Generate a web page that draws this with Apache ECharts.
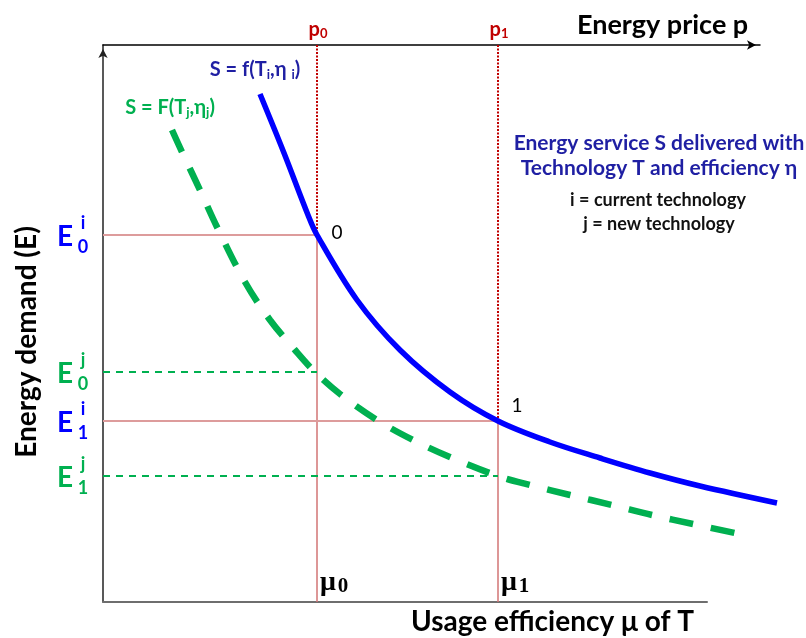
<!DOCTYPE html>
<html>
<head>
<meta charset="utf-8">
<script src="https://cdn.jsdelivr.net/npm/echarts@6/dist/echarts.min.js"></script>
<style>
  html, body { margin: 0; padding: 0; background: #fff; }
  #chart { width: 806px; height: 638px; }
</style>
</head>
<body>
<div id="chart"></div>
<script>
// Usage efficiency at the two energy prices (mu0, mu1)
const efficiency = [214, 395];
// Energy demand at those efficiencies, current technology i and new technology j
const demandCurrent = [367, 181];
const demandNew = [230, 126];
const stateNames = ['0', '1'];
const stateIndex = ['0', '1'];

// Service curve S = f(Ti, eta_i) (current technology)
const currentX = [157, 181, 205, 214, 254, 297, 347, 395, 447, 497, 547, 597, 674];
const currentY = [508, 449, 387, 367, 302, 252, 210, 181, 160, 144, 129, 116, 99];

// Service curve S = F(Tj, eta_j) (new technology)
const newX = [69, 79, 97, 114, 142, 167, 192, 212, 237, 274, 310, 349, 395, 427, 467, 509, 549, 590, 632];
const newY = [472, 450, 412, 375, 320, 282, 252, 230, 208, 182, 162, 144, 126, 117, 107, 97, 87, 78, 69];

const Y_TOP = 557;

const BLUE = '#0000ff';
const NAVY = '#1f1fa3';
const GREEN = '#00b050';
const DARKRED = '#c00000';
const PINK_H = '#dd9c9c';
const PINK_V = '#d27474';
const FONT = 'Lato';

const pairs = (xs, ys) => xs.map((x, i) => [x, ys[i]]);

const chart = echarts.init(document.getElementById('chart'), null, { renderer: 'canvas' });

const series = [];

function segment(p, q, color, width, type) {
  series.push({
    type: 'line', xAxisIndex: 0, yAxisIndex: 0, silent: true,
    symbol: 'none', data: [p, q],
    lineStyle: { color, width, type }, z: 2
  });
}

// guide lines for the two states
efficiency.forEach((mu, k) => {
  const e = demandCurrent[k];
  segment([mu, Y_TOP], [mu, e], DARKRED, 2, [2, 1.5]);
  segment([mu, e], [mu, 0], PINK_V, 1.5, 'solid');
  segment([0, e], [mu, e], PINK_H, 2, 'solid');
  segment([0, demandNew[k]], [mu, demandNew[k]], GREEN, 2, [7, 6]);
});

// service curves
series.push({
  type: 'line', xAxisIndex: 0, yAxisIndex: 0, silent: true,
  smooth: 0.35, symbol: 'none',
  data: pairs(currentX, currentY),
  lineStyle: { color: BLUE, width: 5.5 }, z: 5
});
series.push({
  type: 'line', xAxisIndex: 0, yAxisIndex: 0, silent: true,
  smooth: 0.35, symbol: 'none',
  data: pairs(newX, newY),
  lineStyle: { color: GREEN, width: 6.5, type: [24, 18] }, z: 4
});

// labels: curves, states, prices, efficiencies, demand levels
const labelPoint = (value, label) => ({ value, symbolSize: 0, label: Object.assign({ show: true, position: 'inside', fontWeight: 'bold' }, label) });
const boldRich = (size, color, extra) => Object.assign({ fontFamily: FONT, fontWeight: 'bold', fontSize: size, color }, extra || {});

const pts = [];
pts.push(labelPoint([currentX[0], currentY[0]], {
  offset: [-5, -24], align: 'center', verticalAlign: 'middle',
  fontFamily: FONT, fontSize: 20, color: NAVY,
  formatter: '{t|S = f(T}{s|i}{t|,η }{s|i}{t|)}',
  rich: { t: boldRich(20, NAVY), s: boldRich(13, NAVY, { padding: [10, 0, 0, 0] }) }
}));
pts.push(labelPoint([newX[0], newY[0]], {
  offset: [-2, -22], align: 'center', verticalAlign: 'middle',
  fontFamily: FONT, fontSize: 20, color: GREEN,
  formatter: '{t|S = F(T}{s|j}{t|,η}{s|j}{t|)}',
  rich: { t: boldRich(20, GREEN), s: boldRich(13, GREEN, { padding: [10, 0, 0, 0] }) }
}));
efficiency.forEach((mu, k) => {
  pts.push(labelPoint([mu, demandCurrent[k]], {
    formatter: stateNames[k], offset: k === 0 ? [20, -2] : [19, -15],
    fontFamily: FONT, fontWeight: 'normal', fontSize: 19, color: '#000', align: 'center', verticalAlign: 'middle'
  }));
  pts.push(labelPoint([mu, Y_TOP], {
    formatter: '{p|p}{s|' + stateIndex[k] + '}', offset: [1, -15], align: 'center', verticalAlign: 'middle',
    fontFamily: FONT, fontSize: 20, color: DARKRED,
    rich: { p: boldRich(20, DARKRED), s: boldRich(13, DARKRED, { padding: [8, 0, 0, 0] }) }
  }));
  pts.push(labelPoint([mu, 0], {
    formatter: '{m|μ}{s|' + stateIndex[k] + '}', offset: [3, -19], align: 'left', verticalAlign: 'middle',
    rich: {
      m: { fontFamily: 'Liberation Serif', fontWeight: 'bold', fontSize: 28, color: '#000' },
      s: { fontFamily: 'Liberation Serif', fontWeight: 'bold', fontSize: 21, color: '#000', padding: [8, 0, 0, 2] }
    }
  }));
  [[demandCurrent[k], 'i', BLUE], [demandNew[k], 'j', GREEN]].forEach(([e, tech, col]) => {
    pts.push(labelPoint([0, e], {
      formatter: 'E', offset: [-38, 2], align: 'center', verticalAlign: 'middle',
      fontFamily: FONT, fontSize: 28, color: col
    }));
    pts.push(labelPoint([0, e], {
      formatter: tech + '\n' + stateIndex[k], offset: [-20, 0], align: 'center', verticalAlign: 'middle',
      fontFamily: FONT, fontSize: 18, lineHeight: 24, color: col
    }));
  });
});
series.push({
  type: 'scatter', xAxisIndex: 0, yAxisIndex: 0, silent: true,
  symbolSize: 0, itemStyle: { opacity: 1 }, data: pts, z: 10
});

const hiddenAxis = (extra) => Object.assign({
  type: 'value', show: true, axisLine: { show: false }, axisTick: { show: false },
  axisLabel: { show: false }, splitLine: { show: false }
}, extra);

const option = {
  animation: false,
  backgroundColor: '#ffffff',
  grid: [
    { left: 103, top: 45, width: 700, height: 557 },
    { left: 103, top: 45, width: 657, height: 557 },
    { left: 103, top: 45, width: 604, height: 557 }
  ],
  xAxis: [
    hiddenAxis({ gridIndex: 0, min: 0, max: 700 }),
    hiddenAxis({
      gridIndex: 1, position: 'top', min: 0, max: 1,
      axisLine: { show: true, onZero: false, symbol: ['none', 'arrow'], symbolSize: [7, 9], symbolOffset: [0, -4], lineStyle: { color: '#000', width: 1.5 } }
    }),
    hiddenAxis({
      gridIndex: 2, position: 'bottom', min: 0, max: 1,
      axisLine: { show: true, onZero: false, lineStyle: { color: '#6e6e6e', width: 2 } }
    })
  ],
  yAxis: [
    hiddenAxis({ gridIndex: 0, min: 0, max: Y_TOP }),
    hiddenAxis({
      gridIndex: 1, min: 0, max: 1,
      axisLine: { show: true, onZero: false, symbol: ['none', 'arrow'], symbolSize: [7, 9], symbolOffset: [0, -4], lineStyle: { color: '#222', width: 1.5 } }
    }),
    hiddenAxis({ gridIndex: 2, min: 0, max: 1 })
  ],
  series,
  graphic: [
    {
      type: 'text', left: 577, top: 12,
      style: { text: 'Energy price p', font: 'bold 27px Lato', fill: '#000' }
    },
    {
      type: 'text', left: 411, top: 608,
      style: { text: 'Usage efficiency μ of T', font: 'bold 28px Lato', fill: '#000' }
    },
    {
      type: 'text', x: 27, y: 342, rotation: Math.PI / 2,
      style: { text: 'Energy demand (E)', font: 'bold 28px Lato', fill: '#000', align: 'center', verticalAlign: 'middle' }
    },
    {
      type: 'text', x: 659, y: 143,
      style: { text: 'Energy service S delivered with', font: 'bold 21px Lato', fill: NAVY, align: 'center', verticalAlign: 'middle' }
    },
    {
      type: 'text', x: 659, y: 168,
      style: { text: 'Technology T and efficiency η', font: 'bold 21px Lato', fill: NAVY, align: 'center', verticalAlign: 'middle' }
    },
    {
      type: 'text', x: 658, y: 200,
      style: { text: 'i = current technology', font: 'bold 18px Lato', fill: '#111', align: 'center', verticalAlign: 'middle' }
    },
    {
      type: 'text', x: 659, y: 224,
      style: { text: 'j = new technology', font: 'bold 18px Lato', fill: '#111', align: 'center', verticalAlign: 'middle' }
    }
  ]
};

chart.setOption(option);
</script>
</body>
</html>
